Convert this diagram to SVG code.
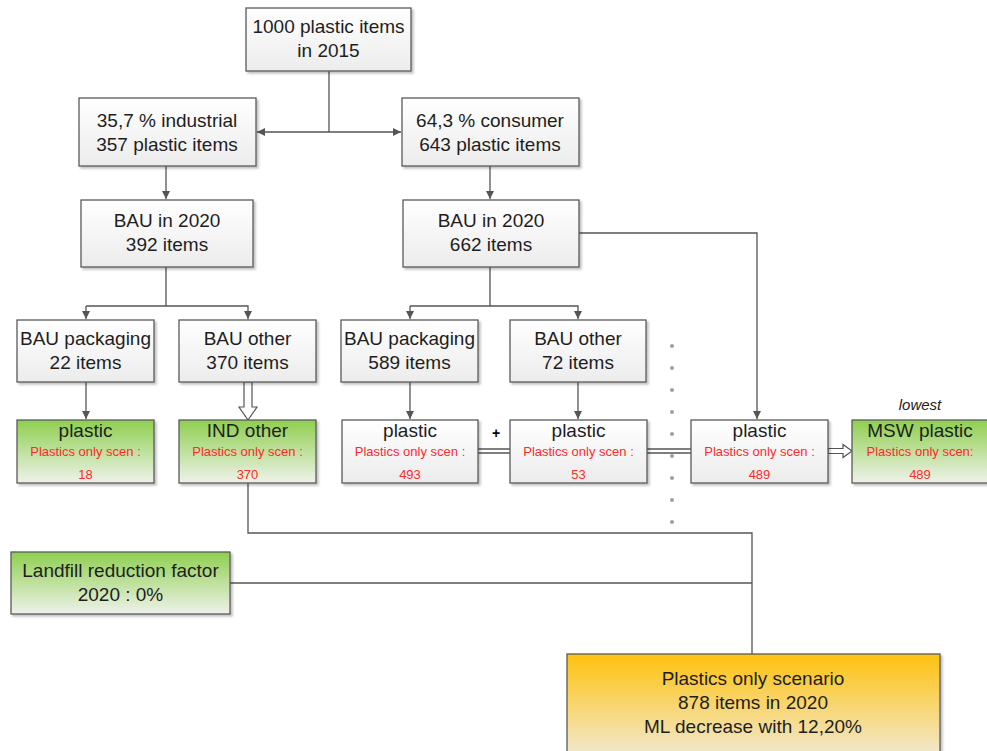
<svg xmlns="http://www.w3.org/2000/svg" width="987" height="751" viewBox="0 0 987 751">
<defs>
<linearGradient id="gw" x1="0" y1="0" x2="0" y2="1"><stop offset="0" stop-color="#ffffff"/><stop offset="1" stop-color="#ececec"/></linearGradient>
<linearGradient id="gg" x1="0" y1="0" x2="0" y2="1"><stop offset="0" stop-color="#8fcf4f"/><stop offset="1" stop-color="#eef2ea"/></linearGradient>
<linearGradient id="go" x1="0" y1="0" x2="0" y2="1"><stop offset="0" stop-color="#ffc20e"/><stop offset="1" stop-color="#f0ece0"/></linearGradient>
<marker id="ah" viewBox="0 0 10 10" refX="10" refY="5" markerWidth="8" markerHeight="8" markerUnits="userSpaceOnUse" orient="auto"><path d="M0,0 L10,5 L0,10 z" fill="#555"/></marker>
<filter id="sh" x="-5%" y="-5%" width="115%" height="125%"><feDropShadow dx="2" dy="2" stdDeviation="1.2" flood-color="#000" flood-opacity="0.25"/></filter>
</defs>
<style>
.b{stroke:#5a5a5a;stroke-width:1.3;filter:url(#sh)}
.w{fill:url(#gw)}
.g{fill:url(#gg)}
.o{fill:url(#go)}
text{font-family:"Liberation Sans",Arial,sans-serif;text-anchor:middle}
.t{font-size:19px;fill:#1e1e1e}
.r{font-size:13px;fill:#ff2a2a}
.c{stroke:#555;stroke-width:1.3;fill:none}
.ca{stroke:#555;stroke-width:1.3;fill:none;marker-end:url(#ah)}
.hb{fill:#fff;stroke:#555;stroke-width:1.2}
.dot{fill:#a0a0a0}
</style>

<g id="connectors">
<path class="c" d="M329,71 V132"/>
<path class="ca" d="M329,132 H257"/>
<path class="ca" d="M329,132 H401"/>
<path class="ca" d="M166,166 V199"/>
<path class="ca" d="M490,166 V199"/>
<path class="c" d="M166,267 V306 H86"/>
<path class="ca" d="M86,306 V319"/>
<path class="ca" d="M166,306 H248 V319"/>
<path class="c" d="M490,267 V306 H410"/>
<path class="ca" d="M410,306 V319"/>
<path class="ca" d="M490,306 H578 V319"/>
<path class="ca" d="M579,233 H757 V419"/>
<path class="ca" d="M86,382 V419"/>
<path class="ca" d="M410,382 V419"/>
<path class="ca" d="M578,382 V419"/>
<polygon class="hb" points="244,382 252,382 252,407 257,407 248,420 239,407 244,407"/>
<path class="c" d="M478,449 H510 M478,453 H510"/>
<path class="c" d="M647,449 H691 M647,453 H691"/>
<polygon class="hb" points="828,448.5 843,448.5 843,444.5 852,451 843,457.5 843,453.5 828,453.5"/>
<path class="c" d="M248,483 V533 H752 V654"/>
<path class="c" d="M230,583 H752"/>
<g id="dots">
<circle class="dot" cx="672" cy="346" r="2"/><circle class="dot" cx="672" cy="368" r="2"/><circle class="dot" cx="672" cy="390" r="2"/><circle class="dot" cx="672" cy="412" r="2"/><circle class="dot" cx="672" cy="434" r="2"/><circle class="dot" cx="672" cy="456" r="2"/><circle class="dot" cx="672" cy="478" r="2"/><circle class="dot" cx="672" cy="500" r="2"/><circle class="dot" cx="672" cy="522" r="2"/>
</g>
<text x="496" y="438" style="font-size:14px;font-weight:bold;fill:#000000">+</text>
</g>

<g id="n-top"><rect class="b w" x="246" y="8" width="165" height="63"/><text class="t" x="328.5" y="33">1000 plastic items</text><text class="t" x="328.5" y="57">in 2015</text></g>
<g id="n-ind"><rect class="b w" x="79" y="98" width="177" height="68"/><text class="t" x="167" y="127">35,7 % industrial</text><text class="t" x="167" y="151">357 plastic items</text></g>
<g id="n-con"><rect class="b w" x="402" y="98" width="177" height="68"/><text class="t" x="490" y="127">64,3 % consumer</text><text class="t" x="490" y="151">643 plastic items</text></g>
<g id="n-bau-l"><rect class="b w" x="81" y="200" width="172" height="67"/><text class="t" x="167" y="227">BAU in 2020</text><text class="t" x="167" y="251">392 items</text></g>
<g id="n-bau-r"><rect class="b w" x="403" y="200" width="176" height="67"/><text class="t" x="491" y="227">BAU in 2020</text><text class="t" x="491" y="251">662 items</text></g>
<g id="n-pk22"><rect class="b w" x="17" y="320" width="137" height="62"/><text class="t" x="85.5" y="345">BAU packaging</text><text class="t" x="85.5" y="369">22 items</text></g>
<g id="n-ot370"><rect class="b w" x="179" y="320" width="137" height="62"/><text class="t" x="247.5" y="345">BAU other</text><text class="t" x="247.5" y="369">370 items</text></g>
<g id="n-pk589"><rect class="b w" x="341" y="320" width="137" height="62"/><text class="t" x="409.5" y="345">BAU packaging</text><text class="t" x="409.5" y="369">589 items</text></g>
<g id="n-ot72"><rect class="b w" x="510" y="320" width="136" height="62"/><text class="t" x="578" y="345">BAU other</text><text class="t" x="578" y="369">72 items</text></g>

<g id="n-p18"><rect class="b g" x="17" y="420" width="137" height="63"/><text class="t" x="85.5" y="437">plastic</text><text class="r" x="85.5" y="456">Plastics only scen :</text><text class="r" x="85.5" y="479">18</text></g>
<g id="n-ind-other"><rect class="b g" x="179" y="420" width="137" height="63"/><text class="t" x="247.5" y="437">IND other</text><text class="r" x="247.5" y="456">Plastics only scen :</text><text class="r" x="247.5" y="479">370</text></g>
<g id="n-p493"><rect class="b w" x="342" y="420" width="136" height="63"/><text class="t" x="410" y="437">plastic</text><text class="r" x="410" y="456">Plastics only scen :</text><text class="r" x="410" y="479">493</text></g>
<g id="n-p53"><rect class="b w" x="510" y="420" width="137" height="63"/><text class="t" x="578.5" y="437">plastic</text><text class="r" x="578.5" y="456">Plastics only scen :</text><text class="r" x="578.5" y="479">53</text></g>
<g id="n-p489"><rect class="b w" x="691" y="420" width="137" height="63"/><text class="t" x="759.5" y="437">plastic</text><text class="r" x="759.5" y="456">Plastics only scen :</text><text class="r" x="759.5" y="479">489</text></g>
<g id="n-msw"><rect class="b g" x="852" y="420" width="137" height="63"/><text x="920" y="410" style="font-size:15px;font-style:italic;fill:#222">lowest</text><text class="t" x="920" y="437">MSW plastic</text><text class="r" x="920" y="456">Plastics only scen:</text><text class="r" x="920" y="479">489</text></g>

<g id="n-landfill"><rect class="b g" x="11" y="552" width="219" height="62"/><text class="t" x="120.5" y="577">Landfill reduction factor</text><text class="t" x="120.5" y="601">2020 : 0%</text></g>
<g id="n-scenario"><rect class="b o" x="567" y="654" width="373" height="110"/><text class="t" x="753" y="685">Plastics only scenario</text><text class="t" x="753" y="709">878 items in 2020</text><text class="t" x="753" y="733">ML decrease with 12,20%</text></g>
</svg>
